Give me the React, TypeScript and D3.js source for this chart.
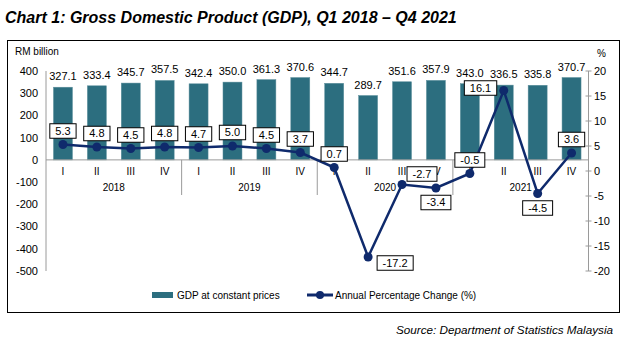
import React from "react";
import * as d3 from "d3";

const quarters = ["I", "II", "III", "IV", "I", "II", "III", "IV", "I", "II", "III", "IV", "I", "II", "III", "IV"];
const years = ["2018", "2019", "2020", "2021"];
const gdp = [327.1, 333.4, 345.7, 357.5, 342.4, 350.0, 361.3, 370.6, 344.7, 289.7, 351.6, 357.9, 343.0, 336.5, 335.8, 370.7];
const growth = [5.3, 4.8, 4.5, 4.8, 4.7, 5.0, 4.5, 3.7, 0.7, -17.2, -2.7, -3.4, -0.5, 16.1, -4.5, 3.6];
const growthLabelPlacement = ["above", "above", "above", "above", "above", "above", "above", "above", "above", "rightBelow", "aboveRight", "below", "above", "left", "below", "above"];
const leftTicks = [400, 300, 200, 100, 0, -100, -200, -300, -400, -500];
const rightTicks = [20, 15, 10, 5, 0, -5, -10, -15, -20];

const W = 628;
const H = 345;
const FONT = "'Liberation Sans', Arial, sans-serif";
const BAR = "#2C6E7F";
const LINE = "#0F2A6C";
const AXIS = "#9A9A9A";

const charW = (s: string, fs: number) => {
  let w = 0;
  for (const c of s) {
    if (c === ".") w += 0.278;
    else if (c === "-") w += 0.333;
    else w += 0.556;
  }
  return w * fs;
};

export default function App() {
  const x0 = 46, x1 = 588.5, yTop = 71, yBot = 271;
  const idx = gdp.map((_, i) => String(i));
  const x = d3.scaleBand<string>().domain(idx).range([x0, x1]).paddingInner(0.44).paddingOuter(0.22);
  const step = x.step();
  const cx = (i: number) => (x(String(i)) as number) + x.bandwidth() / 2;
  const yL = d3.scaleLinear().domain([-500, 400]).range([yBot, yTop]);
  const yR = d3.scaleLinear().domain([-20, 20]).range([yBot, yTop]);
  const line = d3.line<number>().x((_, i) => cx(i)).y((d) => yR(d));
  const groupStart = (g: number) => x0 + (x1 - x0 - step * 16) / 2 + g * 4 * step;

  const lfs = 11;
  const boxH = 14.5;

  return (
    <svg width={W} height={H} style={{ position: "absolute", left: 0, top: 0, background: "#fff" }} fontFamily={FONT}>
      <rect x={0} y={0} width={W} height={H} fill="#fff" />
      <text x={5} y={23} fontSize={16} fontWeight="bold" fontStyle="italic">Chart 1: Gross Domestic Product (GDP), Q1 2018 – Q4 2021</text>
      <rect x={7.5} y={40.5} width={612} height={272} fill="none" stroke="#000" strokeWidth={1} />

      <text x={15} y={55} fontSize={10}>RM billion</text>
      <text x={597} y={57} fontSize={10}>%</text>

      {/* left axis */}
      <line x1={x0} x2={x0} y1={yTop} y2={yBot} stroke={AXIS} />
      {leftTicks.map((t) => (
        <text key={"l" + t} x={38} y={yL(t)} dy="0.35em" fontSize={11} textAnchor="end">{t}</text>
      ))}
      {/* right axis */}
      <line x1={x1} x2={x1} y1={yTop} y2={yBot} stroke={AXIS} />
      {rightTicks.map((t) => (
        <g key={"r" + t}>
          <line x1={x1 - 3} x2={x1 + 3} y1={yR(t)} y2={yR(t)} stroke={AXIS} />
          <text x={594} y={yR(t)} dy="0.35em" fontSize={11}>{t}</text>
        </g>
      ))}

      {/* bars */}
      {gdp.map((v, i) => (
        <rect key={"b" + i} x={x(String(i))} y={yL(v)} width={x.bandwidth()} height={yL(0) - yL(v)} fill={BAR} stroke="#5D8F9C" strokeWidth={0.5} />
      ))}
      {gdp.map((v, i) => (
        <text key={"bl" + i} x={cx(i)} y={yL(v) - 7} fontSize={11} textAnchor="middle">{v.toFixed(1)}</text>
      ))}

      {/* category axis */}
      <line x1={x0} x2={x1} y1={yL(0)} y2={yL(0)} stroke={AXIS} />
      {[1, 2, 3].map((g) => (
        <line key={"sep" + g} x1={groupStart(g)} x2={groupStart(g)} y1={yL(0)} y2={195} stroke={AXIS} />
      ))}
      {quarters.map((q, i) => (
        <text key={"q" + i} x={cx(i)} y={175} fontSize={10} textAnchor="middle">{q}</text>
      ))}
      {years.map((yv, g) => (
        <text key={"y" + g} x={groupStart(g) + 2 * step} y={191} fontSize={10} textAnchor="middle">{yv}</text>
      ))}

      {/* line */}
      <path d={line(growth) || ""} fill="none" stroke={LINE} strokeWidth={2.5} />
      {growth.map((v, i) => (
        <circle key={"c" + i} cx={cx(i)} cy={yR(v)} r={4.5} fill={LINE} />
      ))}
      {growth.map((v, i) => {
        const label = v.toFixed(1);
        const bw = charW(label, lfs) + 11;
        const px = cx(i), py = yR(v);
        const p = growthLabelPlacement[i];
        let bx = px, by = py;
        if (p === "above") by = py - 13.5;
        else if (p === "below") by = py + 14.5;
        else if (p === "left") { bx = px - 7 - bw / 2; by = py - 2.5; }
        else if (p === "rightBelow") { bx = px + 9 + bw / 2; by = py + 6; }
        else if (p === "aboveRight") { bx = px + 5 + bw / 2; by = py - 10.5; }
        return (
          <g key={"gl" + i}>
            <rect x={bx - bw / 2} y={by - boxH / 2} width={bw} height={boxH} fill="#fff" stroke="#000" strokeWidth={1} />
            <text x={bx} y={by} dy="0.36em" fontSize={lfs} textAnchor="middle">{label}</text>
          </g>
        );
      })}

      {/* legend */}
      <rect x={152} y={292} width={21} height={6} fill={BAR} />
      <text x={177} y={299} fontSize={10}>GDP at constant prices</text>
      <line x1={307} x2={333} y1={295} y2={295} stroke={LINE} strokeWidth={3} />
      <circle cx={320} cy={295} r={4} fill={LINE} />
      <text x={335} y={299} fontSize={10}>Annual Percentage Change (%)</text>

      <text x={613} y={334} fontSize={11.7} fontStyle="italic" textAnchor="end">Source: Department of Statistics Malaysia</text>
    </svg>
  );
}
